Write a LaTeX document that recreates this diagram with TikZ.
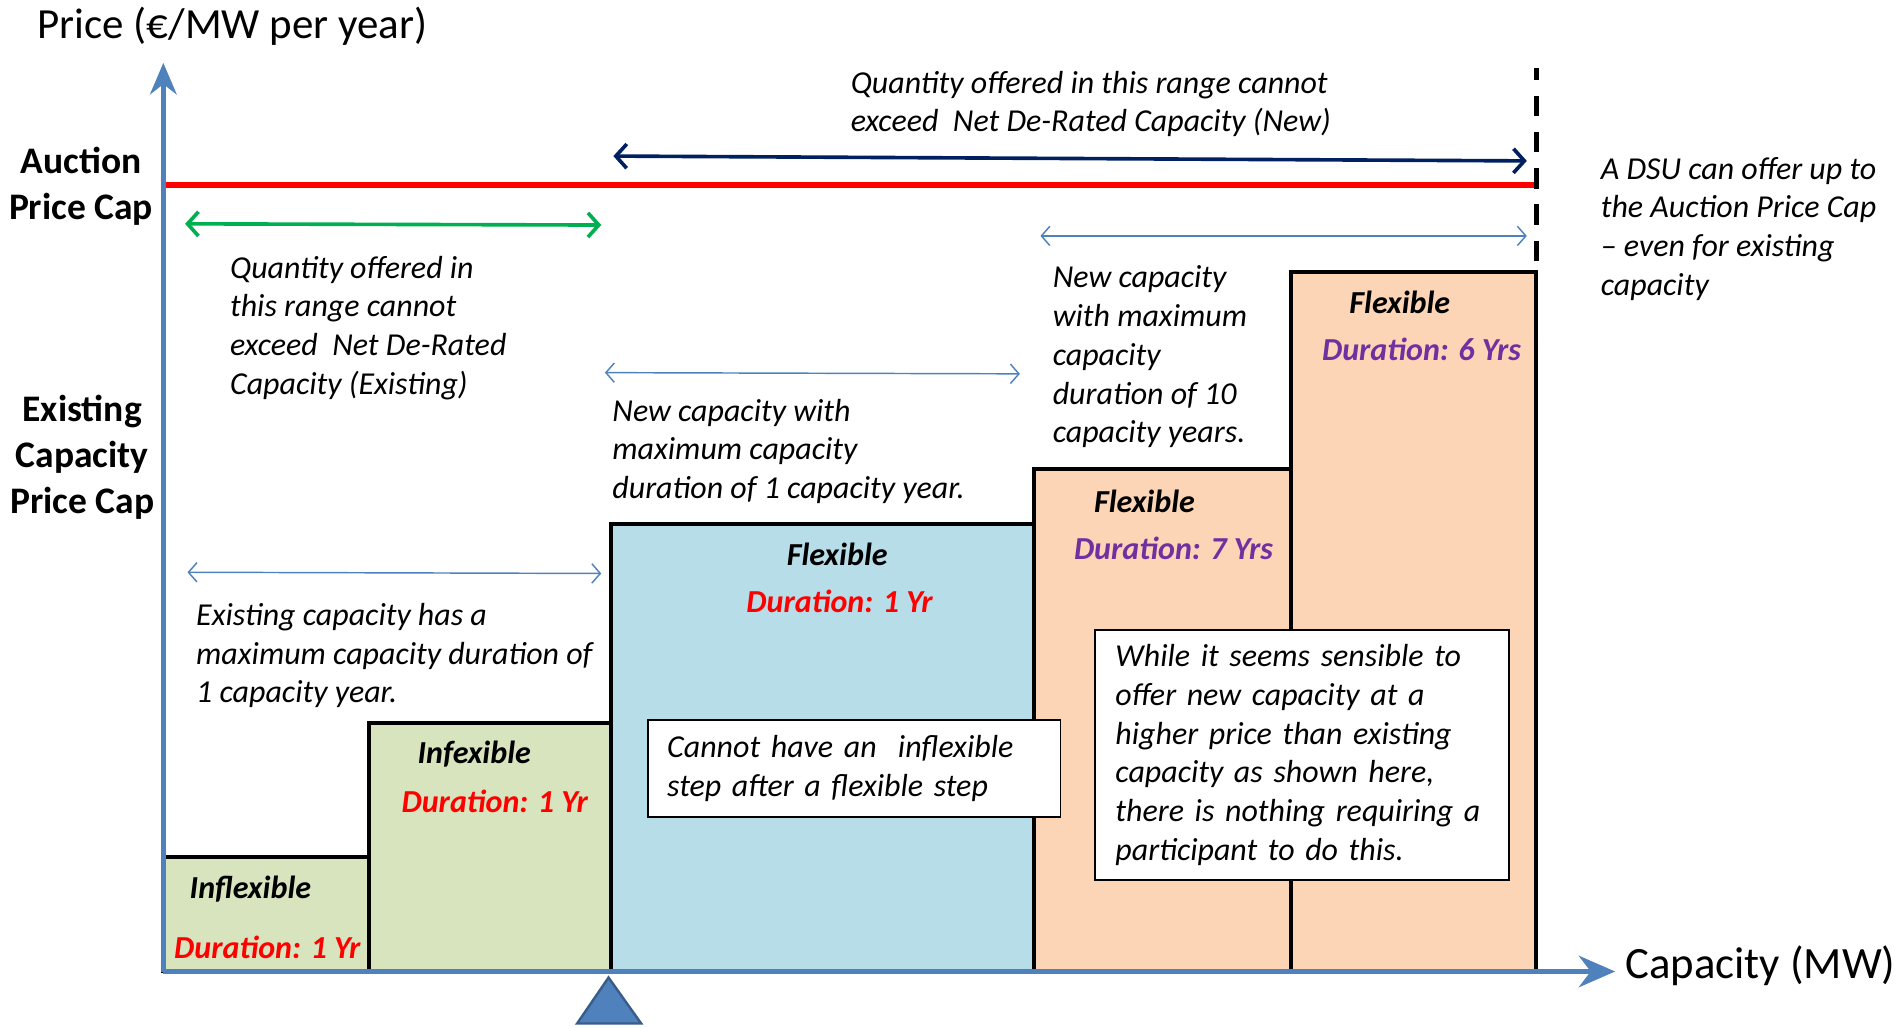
\documentclass[tikz,border=0pt]{standalone}
\usepackage{fontspec}
\setmainfont{Carlito}
\usepackage{xcolor}
\usetikzlibrary{arrows.meta,positioning}
\definecolor{axisblue}{HTML}{4F81BD}
\definecolor{axisdark}{HTML}{385D8A}
\definecolor{navyline}{HTML}{002060}
\definecolor{greenline}{HTML}{00B050}
\definecolor{stepgreen}{HTML}{D7E4BD}
\definecolor{stepblue}{HTML}{B7DEE8}
\definecolor{steporange}{HTML}{FBD5B5}
\definecolor{durpurple}{HTML}{7030A0}

\begin{document}
\begin{tikzpicture}[x=1pt, y=-1pt,
    note/.style={font=\fontsize{26.4}{32}\selectfont\itshape, align=left, inner sep=0pt, anchor=west},
    sidelabel/.style={font=\fontsize{31}{38}\selectfont\bfseries, align=center, inner sep=0pt},
    steplabel/.style={font=\fontsize{26.5}{30}\selectfont\bfseries\itshape, inner sep=0pt},
    textbox/.style={draw, line width=1.5pt, fill=white, align=left, font=\fontsize{26.4}{32}\selectfont\itshape, inner sep=0pt},
    spanarrow/.style={<->, >={Straight Barb[length=7pt,width=16pt]}, axisblue, line width=1.2pt},
    bigspan/.style={<->, >={Straight Barb[length=9pt,width=20pt,line width=3pt]}, line width=3pt}]
  \useasboundingbox (0,0) rectangle (1568,849);

  % steps
  \foreach \xa/\xb/\yt/\col in {135/305/708/stepgreen, 305/505/598/stepgreen, 505/855/433/stepblue, 855/1067/388/steporange, 1067/1270/225/steporange}
    \filldraw[fill=\col, line width=3.3pt] (\xa,\yt) rectangle (\xb,803);

  % axes
  \coordinate (origin) at (135,803);
  \coordinate (ytop) at (135,52);
  \coordinate (xend) at (1335,803);
  \draw[axisblue, line width=4pt, -{Stealth[length=26pt,width=22pt]}] (origin) -- (ytop);
  \draw[axisblue, line width=4pt, -{Stealth[length=30pt,width=26pt]}] (origin) -- (xend);
  \node (ylab) at (192,22) {\fontsize{35.5}{40}\selectfont Price (€/MW per year)};
  \node[anchor=west] (xlab) at (1340,798) {\fontsize{37}{42}\selectfont Capacity (MW)};

  % price caps
  \coordinate (capL) at (137,153);
  \coordinate (capR) at (1270,153);
  \draw[red, line width=4.5pt] (capL) -- (capR);
  \coordinate (dashT) at (1270,56);
  \coordinate (dashB) at (1270,225);
  \draw[line width=4pt, dash pattern=on 17pt off 13pt, dash phase=7pt] (dashT) -- (dashB);
  \node[sidelabel] (auccap) at (67,154) {Auction\\Price Cap};
  \node[sidelabel] (existcap) at (68,378) {Existing\\Capacity\\Price Cap};

  % ranges
  \coordinate (newL) at (507,129);
  \coordinate (newR) at (1262,133);
  \draw[bigspan, navyline] (newL) -- (newR);
  \coordinate (oldL) at (153,185);
  \coordinate (oldR) at (497,186);
  \draw[bigspan, greenline] (oldL) -- (oldR);
  \coordinate (r1L) at (500,308);
  \coordinate (r1R) at (843,309);
  \draw[spanarrow] (r1L) -- (r1R);
  \coordinate (r2L) at (155,473);
  \coordinate (r2R) at (497,474);
  \draw[spanarrow] (r2L) -- (r2R);
  \coordinate (r3L) at (860,195);
  \coordinate (r3R) at (1262,195);
  \draw[spanarrow] (r3L) -- (r3R);

  % notes
  \node[note] (newnote) at (703,86) {Quantity offered in this range cannot\\exceed\ \ Net De-Rated Capacity (New)};
  \node[note] (dsunote) at (1323,189) {A DSU can offer up to\\the Auction Price Cap\\-- even for existing\\capacity};
  \node[note] (oldnote) at (190,271) {Quantity offered in\\this range cannot\\exceed\ \ Net De-Rated\\Capacity (Existing)};
  \node[note] (onenote) at (506,373) {New capacity with\\maximum capacity\\duration of 1 capacity year.};
  \node[note] (tennote) at (870,295) {New capacity\\with maximum\\capacity\\duration of 10\\capacity years.};
  \node[note] (exnote) at (162,542) {Existing capacity has a\\maximum capacity duration of\\1 capacity year.};

  % step labels
  \node[steplabel] (s1) at (207,735) {Inflexible};
  \node[steplabel, red] (d1) at (221,783) {Duration: 1 Yr};
  \node[steplabel] (s2) at (392,623) {Infexible};
  \node[steplabel, red] (d2) at (409,662) {Duration: 1 Yr};
  \node[steplabel] (s3) at (692,458) {Flexible};
  \node[steplabel, red] (d3) at (694,497) {Duration: 1 Yr};
  \node[steplabel] (s4) at (946,414) {Flexible};
  \node[steplabel, durpurple] (d4) at (970,453) {Duration: 7 Yrs};
  \node[steplabel] (s5) at (1157,250) {Flexible};
  \node[steplabel, durpurple] (d5) at (1175,289) {Duration: 6 Yrs};

  % boxes
  \node[textbox, minimum width=341pt, minimum height=80pt, text width=309pt] (stepbox) at (706,635) {Cannot have an\ \ inflexible\\step after a flexible step};
  \node[textbox, minimum width=342pt, minimum height=207pt, text width=308pt] (pricebox) at (1076,624) {While it seems sensible to\\offer new capacity at a\\higher price than existing\\capacity as shown here,\\there is nothing requiring a\\participant to do this.};

  % pivot
  \draw[fill=axisblue, draw=axisdark, line width=2pt] (503,808) -- (530,846) -- (477,846) -- cycle;
\end{tikzpicture}
\end{document}
